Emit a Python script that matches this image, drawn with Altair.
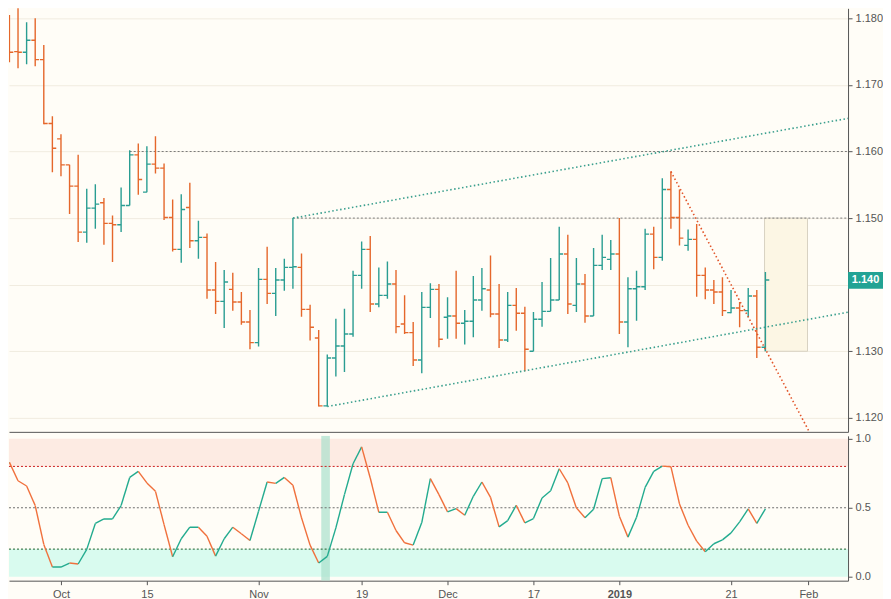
import altair as alt
import pandas as pd

# ---------------- data ----------------
bar_index = list(range(-6, 83))  # trading-day index, 0 = 1 Oct 2018
opens = [1.1779, 1.1750, 1.1749, 1.1767, 1.1738, 1.1642, 1.1619, 1.1580, 1.1548, 1.1479,
         1.1515, 1.1523, 1.1492, 1.1490, 1.1519, 1.1595, 1.1539, 1.1581, 1.1575, 1.1501,
         1.1453, 1.1516, 1.1466, 1.1471, 1.1392, 1.1375, 1.1393, 1.1374, 1.1344, 1.1313,
         1.1408, 1.1387, 1.1407, 1.1426, 1.1426, 1.1363, 1.1320, 1.1218, 1.1290, 1.1308,
         1.1326, 1.1414, 1.1453, 1.1371, 1.1384, 1.1401, 1.1341, 1.1328, 1.1287, 1.1366,
         1.1393, 1.1351, 1.1353, 1.1342, 1.1345, 1.1377, 1.1392, 1.1356, 1.1317, 1.1369,
         1.1357, 1.1300, 1.1348, 1.1360, 1.1377, 1.1446, 1.1369, 1.1401, 1.1353, 1.1429,
         1.1438, 1.1446, 1.1344, 1.1394, 1.1397, 1.1476, 1.1441, 1.1543, 1.1501, 1.1459,
         1.1468, 1.1414, 1.1392, 1.1389, 1.1358, 1.1365, 1.1361, 1.1383, 1.1306]
highs = [1.1805, 1.1818, 1.1794, 1.1800, 1.1760, 1.1653, 1.1626, 1.1580, 1.1595, 1.1544,
         1.1551, 1.1530, 1.1504, 1.1546, 1.1602, 1.1612, 1.1608, 1.1623, 1.1582, 1.1528,
         1.1536, 1.1553, 1.1496, 1.1477, 1.1434, 1.1422, 1.1418, 1.1389, 1.1362, 1.1425,
         1.1457, 1.1425, 1.1439, 1.1500, 1.1447, 1.1370, 1.1332, 1.1295, 1.1349, 1.1364,
         1.1421, 1.1465, 1.1473, 1.1426, 1.1435, 1.1422, 1.1384, 1.1344, 1.1389, 1.1402,
         1.1401, 1.1381, 1.1421, 1.1362, 1.1413, 1.1425, 1.1444, 1.1401, 1.1389, 1.1395,
         1.1367, 1.1359, 1.1404, 1.1440, 1.1487, 1.1475, 1.1440, 1.1416, 1.1455, 1.1475,
         1.1467, 1.1500, 1.1411, 1.1421, 1.1484, 1.1487, 1.1560, 1.1570, 1.1543, 1.1483,
         1.1491, 1.1426, 1.1407, 1.1411, 1.1392, 1.1374, 1.1395, 1.1392, 1.1419]
lows = [1.1734, 1.1725, 1.1731, 1.1728, 1.1641, 1.1569, 1.1563, 1.1506, 1.1464, 1.1463,
        1.1484, 1.1460, 1.1434, 1.1479, 1.1519, 1.1535, 1.1539, 1.1567, 1.1497, 1.1450,
        1.1433, 1.1455, 1.1439, 1.1379, 1.1356, 1.1335, 1.1361, 1.1340, 1.1303, 1.1307,
        1.1371, 1.1353, 1.1391, 1.1394, 1.1352, 1.1316, 1.1217, 1.1217, 1.1262, 1.1269,
        1.1322, 1.1394, 1.1359, 1.1366, 1.1379, 1.1327, 1.1326, 1.1278, 1.1267, 1.1350,
        1.1306, 1.1319, 1.1319, 1.1310, 1.1321, 1.1361, 1.1351, 1.1305, 1.1314, 1.1331,
        1.1270, 1.1300, 1.1337, 1.1360, 1.1377, 1.1356, 1.1359, 1.1343, 1.1353, 1.1422,
        1.1422, 1.1326, 1.1306, 1.1346, 1.1392, 1.1423, 1.1436, 1.1484, 1.1459, 1.1451,
        1.1382, 1.1378, 1.1371, 1.1353, 1.1357, 1.1336, 1.1351, 1.1290, 1.1300]
closes = [1.1749, 1.1749, 1.1767, 1.1738, 1.1642, 1.1605, 1.1580, 1.1548, 1.1479, 1.1515,
          1.1521, 1.1492, 1.1490, 1.1519, 1.1595, 1.1558, 1.1581, 1.1575, 1.1501, 1.1453,
          1.1513, 1.1466, 1.1471, 1.1392, 1.1375, 1.1404, 1.1374, 1.1344, 1.1313, 1.1408,
          1.1387, 1.1407, 1.1426, 1.1427, 1.1363, 1.1336, 1.1218, 1.1290, 1.1308, 1.1326,
          1.1414, 1.1453, 1.1371, 1.1384, 1.1401, 1.1337, 1.1328, 1.1287, 1.1366, 1.1393,
          1.1318, 1.1353, 1.1342, 1.1345, 1.1377, 1.1394, 1.1356, 1.1317, 1.1369, 1.1357,
          1.1303, 1.1348, 1.1360, 1.1377, 1.1446, 1.1371, 1.1401, 1.1353, 1.1429, 1.1441,
          1.1446, 1.1344, 1.1394, 1.1397, 1.1476, 1.1441, 1.1543, 1.1501, 1.1470, 1.1468,
          1.1414, 1.1392, 1.1389, 1.1361, 1.1365, 1.1361, 1.1383, 1.1306, 1.1407]

osc_index = list(range(-7, 83))
osc_values = [0.755, 0.829, 0.696, 0.658, 0.516, 0.234, 0.070, 0.070, 0.099, 0.092,
              0.198, 0.386, 0.419, 0.419, 0.516, 0.720, 0.764, 0.680, 0.619, 0.378,
              0.145, 0.275, 0.359, 0.359, 0.294, 0.149, 0.275, 0.359, 0.311, 0.263,
              0.475, 0.687, 0.677, 0.720, 0.663, 0.427, 0.229, 0.099, 0.147, 0.354,
              0.595, 0.819, 0.942, 0.716, 0.467, 0.467, 0.335, 0.246, 0.229, 0.393,
              0.711, 0.595, 0.470, 0.494, 0.446, 0.583, 0.687, 0.576, 0.361, 0.407,
              0.518, 0.390, 0.422, 0.571, 0.624, 0.783, 0.680, 0.499, 0.427, 0.489,
              0.711, 0.718, 0.439, 0.287, 0.431, 0.648, 0.764, 0.802, 0.798, 0.528,
              0.373, 0.258, 0.181, 0.239, 0.267, 0.318, 0.398, 0.492, 0.386, 0.492]

tick_index = [0, 10, 23, 35, 45, 55, 65, 78, 87]
tick_labels = ["Oct", "15", "Nov", "19", "Dec", "17", "2019", "21", "Feb"]
price_ticks = [1.120, 1.125, 1.130, 1.135, 1.140, 1.145, 1.150, 1.155, 1.160, 1.165, 1.170, 1.175, 1.180]

# drawings
trend_x1 = [27, 31, 71]
trend_y1 = [1.1500, 1.1217, 1.1570]
trend_x2 = [92.6, 92.6, 87.4]
trend_y2 = [1.1652, 1.1361, 1.1172]
trend_kind = ["channel", "channel", "down"]
level_price = [1.160, 1.150]
level_start = [8, 27]
box_x = [81.9, 86.9]
box_y = [1.1300, 1.1500]
last_label = "1.140"
last_price = 1.14065
osc_levels = [0.8, 0.5, 0.2]
highlight_x = [30.3, 31.3]

# ---------------- styling ----------------
W, H_TOP, H_BOT = 840, 424, 145
XDOM = [-6.05, 91.62]
BG = "#fffdf7"
TEAL = "#2a9d92"
ORANGE = "#e5672b"
OSC_UP = "#23ab8f"
OSC_DN = "#f0703c"
AXC = "#555555"
FONT = "Liberation Sans"

xs = alt.Scale(domain=XDOM, nice=False, zero=False)
ys = alt.Scale(domain=[1.1179, 1.1815], nice=False, zero=False)
os_ = alt.Scale(domain=[-0.029, 1.0217], nice=False, zero=False)

bars = pd.DataFrame({"i": bar_index, "o": opens, "h": highs, "l": lows, "c": closes})
bar_col = alt.condition("datum.c >= datum.o", alt.value(TEAL), alt.value(ORANGE))

price_axis = alt.Axis(orient="right", values=price_ticks, title=None,
                      labelExpr=f"datum.value == {last_label} ? '' : format(datum.value, '.3f')",
                      grid=True, gridColor="#f1ece0", tickSize=4, labelPadding=3,
                      domainColor=AXC, tickColor=AXC, labelColor=AXC, labelFontSize=11,
                      labelFont=FONT)
top_x_axis = alt.Axis(labels=False, ticks=False, grid=False, title=None, domainColor=AXC)

base = alt.Chart(bars)
hl = base.mark_rule(strokeWidth=1.4, clip=True).encode(
    x=alt.X("i:Q", scale=xs, axis=top_x_axis),
    y=alt.Y("l:Q", scale=ys, axis=price_axis),
    y2="h:Q",
    color=bar_col,
)
op = base.transform_calculate(xa="datum.i - 0.45").mark_rule(strokeWidth=1.4, clip=True).encode(
    x=alt.X("xa:Q", scale=xs), x2="i:Q", y=alt.Y("o:Q", scale=ys), color=bar_col)
cl = base.transform_calculate(xb="datum.i + 0.45").mark_rule(strokeWidth=1.4, clip=True).encode(
    x=alt.X("i:Q", scale=xs), x2="xb:Q", y=alt.Y("c:Q", scale=ys), color=bar_col)

box_df = pd.DataFrame({"x1": [box_x[0]], "x2": [box_x[1]], "y1": [box_y[0]], "y2": [box_y[1]]})
box = alt.Chart(box_df).mark_rect(fill="#fcf6e4", stroke="#d8d2c2", strokeWidth=1, clip=True).encode(
    x=alt.X("x1:Q", scale=xs), x2="x2:Q", y=alt.Y("y1:Q", scale=ys), y2="y2:Q")

lvl_df = pd.DataFrame({"x1": level_start, "x2": [XDOM[1]] * len(level_start), "p": level_price})
levels = alt.Chart(lvl_df).mark_rule(stroke="#7a7a7a", strokeWidth=1, strokeDash=[2, 2], clip=True).encode(
    x=alt.X("x1:Q", scale=xs), x2="x2:Q", y=alt.Y("p:Q", scale=ys))

tr_df = pd.DataFrame({"x1": trend_x1, "y1": trend_y1, "x2": trend_x2, "y2": trend_y2, "k": trend_kind})
trends = alt.Chart(tr_df).mark_rule(strokeWidth=1.6, strokeDash=[1.5, 2.5], clip=True).encode(
    x=alt.X("x1:Q", scale=xs), x2="x2:Q",
    y=alt.Y("y1:Q", scale=ys), y2="y2:Q",
    color=alt.condition("datum.k == 'channel'", alt.value("#3a9f8e"), alt.value("#e2552a")))

tag_df = pd.DataFrame({"p": [last_price], "t": [last_label]})
tag_bg = alt.Chart(tag_df).mark_point(
    shape="M-1,-0.48L1,-0.48L1,0.48L-1,0.48Z", filled=True, size=1225, opacity=1,
    strokeWidth=0, color="#22a394").encode(x=alt.value(W + 17.5), y=alt.Y("p:Q", scale=ys))
tag_tx = alt.Chart(tag_df).mark_text(color="white", fontWeight="bold", fontSize=11, font=FONT).encode(
    x=alt.value(W + 17.5), y=alt.Y("p:Q", scale=ys), text="t:N")

top = alt.layer(box, levels, hl, op, cl, trends, tag_bg, tag_tx).properties(width=W, height=H_TOP)

# ---------------- lower panel ----------------
seg = pd.DataFrame({
    "x1": osc_index[:-1], "x2": osc_index[1:],
    "y1": osc_values[:-1], "y2": osc_values[1:],
})

label_expr = ""
for v, t in zip(tick_index, tick_labels):
    label_expr += f"datum.value == {v} ? '{t}' : "
label_expr += "''"

bottom_x_axis = alt.Axis(values=tick_index, labelExpr=label_expr, title=None, grid=False,
                         tickSize=4, labelPadding=4, domainColor=AXC, tickColor=AXC,
                         labelColor=AXC, labelFontSize=11, labelFont=FONT,
                         labelFontWeight={"condition": {"test": "datum.value == 65", "value": "bold"},
                                          "value": "normal"})
osc_axis = alt.Axis(orient="right", values=[0.0, 0.5, 1.0], format=".1f", title=None, grid=False,
                    tickSize=4, labelPadding=3, domainColor=AXC, tickColor=AXC,
                    labelColor=AXC, labelFontSize=11, labelFont=FONT)

band_df = pd.DataFrame({"lo": [0.8, 0.0], "hi": [1.0, 0.2], "k": ["ob", "os"]})
bands = alt.Chart(band_df).mark_rect(clip=True).encode(
    x=alt.value(0), x2=alt.value(W),
    y=alt.Y("lo:Q", scale=os_), y2="hi:Q",
    color=alt.condition("datum.k == 'ob'", alt.value("#fdebe3"), alt.value("#d9fbef")))

hi_df = pd.DataFrame({"x1": [highlight_x[0]], "x2": [highlight_x[1]]})
highlight = alt.Chart(hi_df).mark_rect(color="#a9e0cc", opacity=0.7, clip=True).encode(
    x=alt.X("x1:Q", scale=xs), x2="x2:Q", y=alt.value(0), y2=alt.value(H_BOT))

ol_df = pd.DataFrame({"v": osc_levels, "k": ["hi", "mid", "lo"]})
olines = alt.Chart(ol_df).mark_rule(strokeWidth=1, strokeDash=[2, 2]).encode(
    x=alt.value(0), x2=alt.value(W), y=alt.Y("v:Q", scale=os_),
    color=alt.Color("k:N", scale=alt.Scale(domain=["hi", "mid", "lo"],
                                           range=["#cc1f1f", "#6e6e6e", "#1d5e2a"]), legend=None))

segs = alt.Chart(seg).mark_rule(strokeWidth=1.4, clip=True).encode(
    x=alt.X("x1:Q", scale=xs, axis=bottom_x_axis), x2="x2:Q",
    y=alt.Y("y1:Q", scale=os_, axis=osc_axis), y2="y2:Q",
    color=alt.condition("datum.y2 >= datum.y1", alt.value(OSC_UP), alt.value(OSC_DN)))

bottom = alt.layer(bands, highlight, olines, segs).properties(width=W, height=H_BOT)

chart = alt.vconcat(top, bottom, spacing=0).resolve_scale(color="independent").properties(
    padding=0, background=BG
).configure_view(stroke=None).configure_axis(labelFont=FONT)

chart.save("out.html", embed_options={"renderer": "svg", "actions": False})
